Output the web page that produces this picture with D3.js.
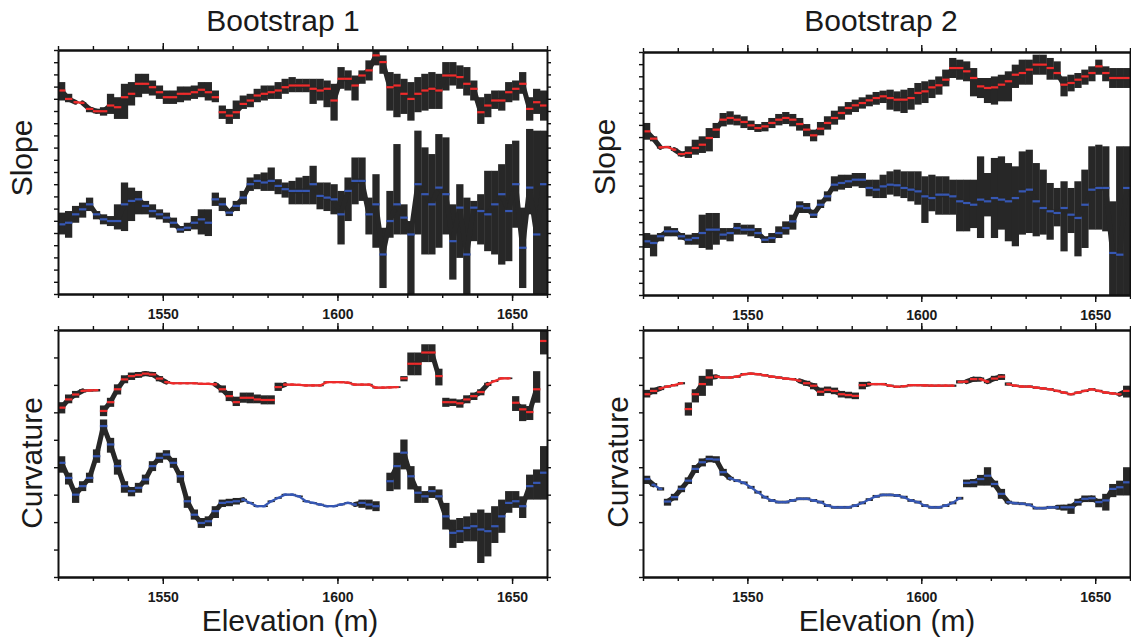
<!DOCTYPE html>
<html>
<head>
<meta charset="utf-8">
<script src="https://cdn.jsdelivr.net/npm/d3@7"></script>
<style>
  body { margin: 0; background: #fff; }
  svg { display: block; font-family: "Liberation Sans", Arial, sans-serif; }
</style>
</head>
<body>
<svg id="chart" width="1131" height="639"></svg>
<script>
// elevation of each bootstrap sample (m), 2 m bins
const elevation = [
  1521, 1523, 1525, 1527, 1529, 1531, 1533, 1535, 1537, 1539,
  1541, 1543, 1545, 1547, 1549, 1551, 1553, 1555, 1557, 1559,
  1561, 1563, 1565, 1567, 1569, 1571, 1573, 1575, 1577, 1579,
  1581, 1583, 1585, 1587, 1589, 1591, 1593, 1595, 1597, 1599,
  1601, 1603, 1605, 1607, 1609, 1611, 1613, 1615, 1617, 1619,
  1621, 1623, 1625, 1627, 1629, 1631, 1633, 1635, 1637, 1639,
  1641, 1643, 1645, 1647, 1649, 1651, 1653, 1655, 1657, 1659
];

// Bootstrap 1 - slope (red = upper series, blue = lower series)
const b1SlopeRed = [
  16.68, 15.99, 15.72, 15.66, 15.17, 14.98, 14.98, 15.45, 15.31, 16.13,
  16.41, 17.23, 17.23, 16.95, 16.54, 16.13, 16.13, 16.41, 16.41, 16.54,
  16.74, 16.54, 16.13, 14.90, 14.62, 14.90, 15.58, 15.86, 16.27, 16.41,
  16.54, 16.68, 16.95, 17.09, 17.09, 17.09, 16.82, 16.68, 16.82, 15.86,
  17.64, 17.64, 17.09, 17.91, 18.33, 19.56, 19.01, 16.95, 17.09, 16.41,
  15.99, 16.41, 16.68, 16.82, 16.68, 17.91, 17.91, 17.78, 17.23, 16.82,
  14.90, 15.45, 15.86, 15.86, 16.54, 16.82, 17.23, 15.17, 15.72, 15.45
];
const b1SlopeRedHi = [
  17.37, 16.41, 15.78, 15.72, 15.31, 15.17, 15.31, 16.41, 16.13, 17.23,
  17.37, 18.05, 18.05, 17.50, 17.09, 16.68, 16.68, 17.01, 17.01, 17.09,
  17.37, 17.37, 16.68, 15.45, 15.17, 15.86, 16.27, 16.41, 16.82, 17.09,
  17.09, 17.37, 17.64, 17.78, 17.64, 17.64, 17.64, 17.64, 17.50, 17.23,
  18.60, 18.33, 17.91, 18.33, 19.15, 20.11, 19.56, 18.19, 18.05, 17.64,
  17.37, 17.78, 18.05, 18.19, 18.05, 19.01, 19.01, 18.74, 18.60, 17.50,
  16.13, 16.41, 16.68, 16.68, 17.37, 17.50, 18.19, 16.13, 16.82, 16.68
];
const b1SlopeRedLo = [
  15.86, 15.72, 15.66, 15.60, 14.90, 14.81, 14.62, 14.76, 14.35, 14.35,
  15.45, 16.13, 16.41, 16.27, 15.99, 15.58, 15.58, 15.72, 15.86, 15.99,
  16.13, 15.86, 15.72, 14.35, 13.94, 14.35, 15.17, 15.31, 15.72, 15.86,
  15.99, 15.99, 16.41, 16.54, 16.54, 16.54, 15.58, 15.86, 15.31, 14.21,
  16.82, 16.68, 15.86, 17.23, 17.50, 18.74, 18.05, 15.03, 14.49, 14.76,
  14.21, 14.90, 15.03, 15.17, 15.17, 16.68, 17.09, 16.82, 16.27, 15.86,
  13.94, 14.49, 15.17, 15.03, 15.72, 15.86, 16.41, 14.21, 14.76, 14.21
];
const b1SlopeRedBreaks = [1566, 1570];
const b1SlopeBlue = [
  5.71, 5.84, 6.53, 6.94, 7.35, 6.53, 6.12, 5.98, 5.98, 7.35,
  7.63, 7.76, 7.22, 6.80, 6.53, 6.26, 5.84, 5.29, 5.43, 5.84,
  6.12, 5.84, 7.76, 7.35, 6.67, 7.22, 7.90, 9.00, 9.27, 9.14,
  9.27, 8.86, 8.59, 8.45, 8.45, 8.45, 9.00, 8.04, 7.90, 7.76,
  6.53, 8.45, 9.27, 9.27, 6.53, 7.35, 3.24, 5.98, 7.35, 6.26,
  4.88, 9.00, 8.18, 7.35, 8.72, 8.18, 4.33, 7.08, 3.24, 7.08,
  6.80, 6.53, 7.35, 8.18, 6.80, 9.00, 3.79, 8.72, 4.88, 9.00
];
const b1SlopeBlueHi = [
  6.67, 6.80, 7.22, 7.49, 7.90, 6.80, 6.53, 6.39, 7.35, 9.14,
  8.72, 8.45, 7.63, 7.35, 6.94, 6.67, 6.26, 5.57, 5.84, 6.39,
  6.94, 6.94, 8.31, 7.90, 6.94, 7.63, 8.45, 9.55, 9.82, 9.96,
  10.37, 9.41, 9.14, 9.27, 9.55, 9.68, 10.51, 9.14, 9.14, 9.00,
  8.45, 9.55, 11.19, 11.19, 7.90, 9.82, 5.43, 8.45, 12.29, 7.35,
  5.98, 13.39, 12.02, 11.47, 13.11, 12.84, 7.35, 9.00, 7.90, 7.63,
  8.18, 10.10, 10.10, 10.64, 12.29, 12.57, 7.08, 13.53, 13.39, 13.39
];
const b1SlopeBlueLo = [
  4.88, 4.61, 5.84, 6.26, 6.80, 6.12, 5.71, 5.57, 5.29, 5.16,
  5.98, 6.53, 6.53, 6.26, 6.12, 5.84, 5.43, 5.02, 5.16, 5.29,
  4.88, 4.75, 7.22, 6.80, 6.39, 6.80, 7.35, 8.45, 8.59, 8.45,
  8.45, 8.18, 7.90, 7.35, 7.35, 7.35, 7.35, 6.94, 6.80, 6.53,
  4.06, 5.98, 7.35, 7.63, 4.88, 3.79, 0.49, 4.61, 4.88, 4.88,
  0.00, 4.88, 3.24, 3.24, 3.79, 4.88, 1.18, 2.96, 0.00, 4.33,
  4.06, 3.51, 3.24, 2.41, 2.69, 5.43, 0.49, 6.53, 0.00, 0.00
];
const b1SlopeBlueBreaks = [1564];

// Bootstrap 2 - slope
const b2SlopeRed = [
  13.47, 12.87, 12.15, 12.18, 11.96, 11.60, 11.69, 12.10, 12.37, 12.92,
  13.61, 14.43, 14.57, 14.43, 14.24, 13.96, 13.74, 13.88, 14.16, 14.43,
  14.57, 14.43, 14.07, 13.61, 13.14, 13.69, 14.16, 14.57, 14.98, 15.39,
  15.61, 15.80, 16.02, 16.21, 16.35, 16.21, 16.08, 16.08, 16.21, 16.63,
  16.76, 17.09, 17.26, 17.72, 18.68, 18.68, 18.41, 17.86, 17.17, 17.04,
  17.09, 17.31, 17.59, 18.13, 18.27, 18.55, 18.96, 18.96, 18.68, 18.27,
  17.31, 17.45, 17.72, 17.99, 18.27, 18.82, 18.27, 17.86, 17.86, 17.86
];
const b2SlopeRedHi = [
  14.16, 13.06, 12.24, 12.27, 12.05, 11.77, 12.24, 12.78, 13.06, 13.74,
  14.16, 14.98, 15.12, 14.84, 14.71, 14.35, 14.07, 14.24, 14.57, 14.90,
  15.06, 14.90, 14.57, 14.07, 13.61, 14.24, 14.71, 15.17, 15.53, 15.88,
  16.08, 16.27, 16.49, 16.71, 16.82, 16.90, 16.76, 16.90, 17.04, 17.45,
  17.59, 17.72, 17.99, 18.55, 19.51, 19.37, 19.23, 18.68, 17.86, 17.86,
  17.99, 18.13, 18.41, 18.96, 19.37, 19.37, 19.78, 19.78, 19.51, 19.23,
  17.99, 18.13, 18.27, 18.55, 18.82, 19.37, 18.82, 18.68, 18.68, 18.68
];
const b2SlopeRedLo = [
  12.78, 12.65, 12.05, 12.08, 11.86, 11.41, 11.28, 11.55, 11.69, 11.82,
  12.92, 13.88, 14.02, 13.96, 13.74, 13.58, 13.42, 13.47, 13.74, 13.96,
  14.07, 13.88, 13.53, 13.06, 12.65, 13.14, 13.61, 14.02, 14.43, 14.84,
  15.06, 15.34, 15.53, 15.66, 15.80, 15.25, 15.12, 14.98, 15.25, 15.67,
  15.80, 16.21, 16.49, 17.17, 17.86, 17.72, 17.59, 16.35, 16.21, 15.80,
  15.67, 15.94, 15.94, 17.04, 17.31, 17.31, 18.13, 18.13, 17.72, 17.72,
  16.35, 16.76, 17.04, 17.31, 17.59, 18.13, 17.59, 17.04, 17.04, 17.04
];
const b2SlopeRedBreaks = [];
const b2SlopeBlue = [
  4.42, 4.28, 4.83, 5.24, 5.24, 4.83, 4.55, 4.69, 5.10, 5.38,
  5.38, 4.97, 5.10, 5.51, 5.38, 5.38, 5.10, 4.55, 4.69, 5.10,
  5.51, 6.06, 7.30, 7.16, 6.61, 7.43, 8.12, 9.08, 9.22, 9.36,
  9.49, 9.49, 8.81, 8.67, 8.94, 9.08, 9.03, 8.81, 8.67, 8.53,
  8.12, 7.98, 8.26, 8.26, 8.12, 7.71, 7.57, 7.43, 7.85, 7.71,
  7.98, 7.85, 7.71, 7.98, 8.53, 8.67, 7.71, 7.16, 6.89, 6.75,
  7.16, 6.61, 6.34, 7.43, 8.67, 8.81, 8.81, 3.46, 3.32, 8.81
];
const b2SlopeBlueHi = [
  5.10, 4.97, 5.10, 5.65, 5.51, 5.10, 4.97, 5.10, 6.61, 6.75,
  6.75, 5.51, 5.51, 5.93, 5.79, 5.79, 5.51, 4.83, 5.10, 5.65,
  6.06, 6.61, 7.71, 7.57, 7.02, 7.85, 8.53, 9.77, 9.90, 9.90,
  10.04, 10.04, 9.49, 9.49, 9.90, 10.18, 10.32, 10.18, 10.18, 10.18,
  9.77, 9.90, 9.77, 9.77, 9.49, 9.49, 9.49, 9.49, 11.41, 10.04,
  11.28, 11.41, 10.86, 10.59, 11.82, 11.96, 10.86, 10.32, 9.22, 8.81,
  9.36, 8.81, 9.36, 10.32, 12.24, 12.37, 12.24, 7.71, 12.24, 12.24
];
const b2SlopeBlueLo = [
  3.87, 3.18, 4.42, 4.83, 4.83, 4.55, 4.14, 4.14, 3.87, 3.73,
  4.14, 4.55, 4.42, 4.97, 4.97, 4.83, 4.69, 4.28, 4.28, 4.69,
  4.97, 5.38, 6.75, 6.75, 6.34, 7.16, 7.71, 8.53, 8.67, 8.81,
  8.94, 8.81, 8.12, 7.98, 7.98, 8.26, 8.12, 7.98, 7.71, 7.43,
  5.93, 6.89, 6.61, 6.61, 6.61, 5.24, 5.24, 5.51, 4.69, 6.47,
  4.69, 5.38, 4.42, 4.01, 4.97, 5.10, 4.83, 4.97, 4.55, 5.65,
  3.59, 5.10, 3.18, 3.87, 5.38, 5.38, 5.24, 0.00, 0.00, 0.00
];
const b2SlopeBlueBreaks = [];

// Bootstrap 1 - curvature
const b1CurvRed = [
  6.17, 6.47, 6.65, 6.78, 6.80, 6.81, 6.05, 6.37, 6.84, 7.20,
  7.32, 7.36, 7.41, 7.38, 7.23, 7.10, 7.06, 7.06, 7.06, 7.06,
  7.04, 7.04, 7.02, 6.84, 6.59, 6.37, 6.53, 6.53, 6.47, 6.45,
  6.45, 6.92, 7.01, 7.01, 7.00, 6.98, 6.98, 6.98, 7.10, 7.10,
  7.10, 7.08, 7.01, 7.01, 7.01, 6.90, 6.90, 6.91, 6.92, 7.24,
  7.77, 7.77, 8.18, 8.18, 7.32, 6.37, 6.37, 6.33, 6.47, 6.59,
  6.74, 7.02, 7.14, 7.24, 7.24, 6.35, 6.11, 6.01, 6.84, 8.60
];
const b1CurvRedHi = [
  6.37, 6.65, 6.78, 6.84, 6.84, 6.85, 6.25, 6.53, 7.02, 7.35,
  7.45, 7.47, 7.49, 7.47, 7.32, 7.14, 7.09, 7.09, 7.09, 7.09,
  7.07, 7.07, 7.05, 6.98, 6.78, 6.57, 6.72, 6.72, 6.65, 6.62,
  6.62, 7.08, 7.04, 7.04, 7.03, 7.01, 7.01, 7.01, 7.13, 7.13,
  7.13, 7.11, 7.04, 7.04, 7.04, 6.93, 6.93, 6.94, 6.95, 7.32,
  8.18, 8.18, 8.48, 8.48, 7.59, 6.53, 6.50, 6.47, 6.62, 6.72,
  6.84, 7.08, 7.17, 7.27, 7.27, 6.59, 6.29, 6.23, 7.50, 8.97
];
const b1CurvRedLo = [
  5.96, 6.33, 6.53, 6.72, 6.75, 6.76, 5.86, 6.20, 6.65, 7.06,
  7.18, 7.26, 7.32, 7.30, 7.13, 7.06, 7.03, 7.03, 7.03, 7.03,
  7.01, 7.01, 6.99, 6.72, 6.41, 6.23, 6.35, 6.33, 6.33, 6.29,
  6.29, 6.78, 6.98, 6.98, 6.97, 6.95, 6.95, 6.95, 7.07, 7.07,
  7.07, 7.05, 6.98, 6.98, 6.98, 6.87, 6.87, 6.88, 6.89, 7.13,
  7.35, 7.35, 7.83, 7.83, 6.98, 6.20, 6.23, 6.17, 6.33, 6.45,
  6.62, 6.96, 7.11, 7.21, 7.21, 6.05, 5.68, 5.72, 6.35, 8.11
];
const b1CurvRedBreaks = [1532, 1582, 1618, 1620, 1630, 1650, 1658];
const b1CurvBlue = [
  4.16, 3.61, 3.00, 3.31, 3.61, 4.40, 5.50, 4.83, 4.04, 3.31,
  3.13, 3.25, 3.55, 4.04, 4.34, 4.46, 4.16, 3.67, 2.76, 2.27,
  1.97, 2.03, 2.40, 2.70, 2.73, 2.76, 2.82, 2.70, 2.58, 2.58,
  2.76, 2.88, 3.00, 3.00, 2.94, 2.76, 2.70, 2.64, 2.58, 2.58,
  2.64, 2.70, 2.64, 2.70, 2.64, 2.58, null, 3.49, 4.04, 4.53,
  3.67, 3.07, 2.94, 3.13, 2.94, 2.21, 1.61, 1.67, 1.79, 1.85,
  1.73, 1.67, 1.85, 2.21, 2.70, 2.76, 2.58, 3.31, 3.43, 3.80
];
const b1CurvBlueHi = [
  4.40, 3.80, 3.25, 3.49, 3.80, 4.65, 5.74, 5.07, 4.28, 3.49,
  3.28, 3.43, 3.73, 4.22, 4.53, 4.62, 4.34, 3.86, 2.94, 2.46,
  2.15, 2.21, 2.58, 2.82, 2.85, 2.88, 2.85, 2.73, 2.61, 2.61,
  2.79, 2.91, 3.03, 3.03, 2.97, 2.79, 2.73, 2.67, 2.61, 2.61,
  2.67, 2.73, 2.67, 2.82, 2.82, 2.76, null, 3.80, 4.53, 5.01,
  4.04, 3.31, 3.13, 3.31, 3.19, 2.70, 2.09, 2.15, 2.21, 2.34,
  2.46, 2.34, 2.58, 2.82, 3.13, 3.13, 2.94, 3.73, 3.92, 4.77
];
const b1CurvBlueLo = [
  3.80, 3.37, 2.70, 3.13, 3.43, 4.16, 5.19, 4.53, 3.73, 3.07,
  2.94, 3.07, 3.37, 3.86, 4.16, 4.28, 3.98, 3.43, 2.52, 2.09,
  1.79, 1.85, 2.15, 2.55, 2.58, 2.64, 2.79, 2.67, 2.55, 2.55,
  2.73, 2.85, 2.97, 2.97, 2.91, 2.73, 2.67, 2.61, 2.55, 2.55,
  2.61, 2.67, 2.61, 2.52, 2.46, 2.40, null, 3.13, 3.19, 3.92,
  3.19, 2.70, 2.70, 2.88, 2.82, 1.73, 1.06, 1.24, 1.30, 1.30,
  0.51, 0.75, 1.24, 1.61, 2.34, 2.52, 2.15, 2.82, 2.82, 2.82
];
const b1CurvBlueBreaks = [];

// Bootstrap 2 - curvature
const b2CurvRed = [
  6.66, 6.78, 6.87, 6.94, 6.99, 7.06, 6.12, 6.66, 7.03, 7.27,
  7.30, 7.27, 7.27, 7.30, 7.39, 7.41, 7.39, 7.35, 7.30, 7.27,
  7.23, 7.21, 7.15, 7.06, 6.97, 6.75, 6.82, 6.78, 6.66, 6.63,
  6.60, 6.99, 7.03, 7.03, 7.03, 6.97, 6.93, 6.95, 6.99, 6.99,
  6.98, 6.97, 6.97, 6.97, 6.97, 7.11, 7.12, 7.21, 7.21, 7.12,
  7.23, 7.30, 7.03, 6.97, 6.94, 6.94, 6.90, 6.87, 6.84, 6.78,
  6.72, 6.66, 6.72, 6.78, 6.84, 6.78, 6.72, 6.69, 6.66, 6.78
];
const b2CurvRedHi = [
  6.82, 6.90, 6.93, 6.98, 7.03, 7.10, 6.36, 6.84, 7.33, 7.57,
  7.35, 7.31, 7.31, 7.34, 7.43, 7.45, 7.43, 7.39, 7.34, 7.31,
  7.27, 7.25, 7.19, 7.15, 7.06, 6.90, 6.94, 6.90, 6.78, 6.75,
  6.72, 7.11, 7.07, 7.07, 7.07, 7.01, 6.97, 6.99, 7.03, 7.03,
  7.02, 7.01, 7.01, 7.01, 7.01, 7.17, 7.17, 7.27, 7.27, 7.18,
  7.33, 7.39, 7.09, 7.01, 6.98, 6.98, 6.94, 6.91, 6.88, 6.82,
  6.76, 6.70, 6.76, 6.82, 6.88, 6.82, 6.76, 6.73, 6.70, 6.97
];
const b2CurvRedLo = [
  6.54, 6.66, 6.81, 6.90, 6.95, 7.02, 5.88, 6.36, 6.60, 6.97,
  7.25, 7.23, 7.23, 7.26, 7.35, 7.37, 7.35, 7.31, 7.26, 7.23,
  7.19, 7.17, 7.11, 6.97, 6.84, 6.60, 6.70, 6.66, 6.54, 6.51,
  6.48, 6.84, 6.99, 6.99, 6.99, 6.93, 6.89, 6.91, 6.95, 6.95,
  6.94, 6.93, 6.93, 6.93, 6.93, 7.05, 7.07, 7.12, 7.15, 7.06,
  7.15, 7.18, 6.97, 6.93, 6.90, 6.90, 6.86, 6.83, 6.80, 6.74,
  6.68, 6.62, 6.68, 6.74, 6.80, 6.74, 6.68, 6.65, 6.62, 6.54
];
const b2CurvRedBreaks = [1532, 1534, 1582, 1610, 1624];
const b2CurvBlue = [
  3.57, 3.36, 3.21, 2.75, 2.91, 3.21, 3.51, 3.94, 4.18, 4.30,
  4.28, 3.82, 3.60, 3.51, 3.43, 3.27, 3.09, 2.91, 2.79, 2.73,
  2.73, 2.79, 2.85, 2.85, 2.79, 2.73, 2.60, 2.54, 2.54, 2.54,
  2.60, 2.70, 2.82, 2.94, 2.99, 2.99, 2.97, 2.91, 2.79, 2.73,
  2.60, 2.54, 2.54, 2.60, 2.70, 2.87, 3.43, 3.45, 3.57, 3.69,
  3.39, 3.03, 2.73, 2.69, 2.67, 2.63, 2.51, 2.51, 2.54, 2.54,
  2.54, 2.54, 2.73, 2.85, 2.87, 2.73, 2.79, 3.21, 3.27, 3.45
];
const b2CurvBlueHi = [
  3.69, 3.42, 3.27, 2.85, 3.03, 3.33, 3.63, 4.08, 4.32, 4.42,
  4.40, 3.94, 3.65, 3.56, 3.48, 3.32, 3.14, 2.96, 2.84, 2.78,
  2.78, 2.84, 2.90, 2.90, 2.84, 2.78, 2.65, 2.59, 2.59, 2.59,
  2.65, 2.75, 2.87, 2.99, 3.04, 3.04, 3.02, 2.96, 2.84, 2.78,
  2.65, 2.59, 2.59, 2.65, 2.75, 2.92, 3.55, 3.57, 3.72, 4.00,
  3.51, 3.21, 2.78, 2.74, 2.72, 2.68, 2.56, 2.56, 2.59, 2.59,
  2.63, 2.67, 2.85, 2.97, 2.97, 2.85, 3.03, 3.39, 3.51, 4.00
];
const b2CurvBlueLo = [
  3.39, 3.30, 3.15, 2.60, 2.79, 3.09, 3.39, 3.79, 4.03, 4.18,
  4.16, 3.69, 3.55, 3.46, 3.38, 3.22, 3.04, 2.86, 2.74, 2.68,
  2.68, 2.74, 2.80, 2.80, 2.74, 2.68, 2.55, 2.49, 2.49, 2.49,
  2.55, 2.65, 2.77, 2.89, 2.94, 2.94, 2.92, 2.86, 2.74, 2.68,
  2.55, 2.49, 2.49, 2.55, 2.65, 2.82, 3.27, 3.27, 3.33, 3.33,
  3.27, 2.85, 2.68, 2.64, 2.62, 2.58, 2.46, 2.46, 2.49, 2.49,
  2.42, 2.30, 2.60, 2.73, 2.73, 2.54, 2.42, 2.91, 2.97, 2.97
];
const b2CurvBlueBreaks = [1526, 1612];

const redColor = "#ee2b2b";
const blueColor = "#3657b3";
const barColor = "#272727";

let panels = [
  { left: 58, right: 547, top: 50, bottom: 294, yMax: 20,
    series: [[b1SlopeRed, b1SlopeRedLo, b1SlopeRedHi, b1SlopeRedBreaks, redColor],
             [b1SlopeBlue, b1SlopeBlueLo, b1SlopeBlueHi, b1SlopeBlueBreaks, blueColor]] },
  { left: 643, right: 1130, top: 52, bottom: 295, yMax: 20,
    series: [[b2SlopeRed, b2SlopeRedLo, b2SlopeRedHi, b2SlopeRedBreaks, redColor],
             [b2SlopeBlue, b2SlopeBlueLo, b2SlopeBlueHi, b2SlopeBlueBreaks, blueColor]] },
  { left: 58, right: 547, top: 330, bottom: 577, yMax: 9,
    series: [[b1CurvRed, b1CurvRedLo, b1CurvRedHi, b1CurvRedBreaks, redColor],
             [b1CurvBlue, b1CurvBlueLo, b1CurvBlueHi, b1CurvBlueBreaks, blueColor]] },
  { left: 643, right: 1130, top: 330, bottom: 577, yMax: 9,
    series: [[b2CurvRed, b2CurvRedLo, b2CurvRedHi, b2CurvRedBreaks, redColor],
             [b2CurvBlue, b2CurvBlueLo, b2CurvBlueHi, b2CurvBlueBreaks, blueColor]] }
];

const svg = d3.select("#chart");
svg.append("rect").attr("width", 1131).attr("height", 639).attr("fill", "#fff");

let drawPanel = (p, i) => {
  let x = d3.scaleLinear().domain([1520, 1660]).range([p.left, p.right]);
  let y = d3.scaleLinear().domain([0, p.yMax]).range([p.bottom, p.top]);

  svg.append("clipPath").attr("id", "clip" + i)
    .append("rect")
    .attr("x", p.left).attr("y", p.top)
    .attr("width", p.right - p.left).attr("height", p.bottom - p.top);

  let plot = svg.append("g").attr("clip-path", "url(#clip" + i + ")");

  p.series.forEach(([mid, lo, hi, breaks, color]) => {
    let pts = elevation
      .map((e, k) => ({ e: e, v: mid[k], lo: lo[k], hi: hi[k] }))
      .filter((d) => d.v !== null);
    let barPx = (d) => y(d.lo) - y(d.hi);

    // neighbouring samples, joined unless the curve is broken between them
    let links = [];
    for (let k = 0; k < pts.length - 1; k++) {
      let a = pts[k], b = pts[k + 1];
      let broken = b.e - a.e !== 2 || breaks.some((br) => br > a.e && br < b.e);
      if (!broken) {
        links.push({ a: a, b: b, wide: Math.max(barPx(a), barPx(b)) > 4 });
      }
    }

    // error bars
    plot.append("g")
      .selectAll("rect")
      .data(pts)
      .enter()
      .append("rect")
      .attr("x", (d) => x(d.e - 1))
      .attr("width", (d) => x(d.e + 1) - x(d.e - 1) + 0.3)
      .attr("y", (d) => y(d.hi))
      .attr("height", (d) => Math.max(0.5, barPx(d)))
      .attr("fill", barColor);

    // dark joints between neighbours that carry error bars
    plot.append("g")
      .selectAll("line")
      .data(links.filter((l) => l.wide))
      .enter()
      .append("line")
      .attr("x1", (l) => x(l.a.e)).attr("y1", (l) => y(l.a.v))
      .attr("x2", (l) => x(l.b.e)).attr("y2", (l) => y(l.b.v))
      .attr("stroke", barColor)
      .attr("stroke-width", 5)
      .attr("stroke-linecap", "round");

    // thin coloured line where the spread is negligible
    plot.append("g")
      .selectAll("line")
      .data(links.filter((l) => !l.wide))
      .enter()
      .append("line")
      .attr("x1", (l) => x(l.a.e)).attr("y1", (l) => y(l.a.v))
      .attr("x2", (l) => x(l.b.e)).attr("y2", (l) => y(l.b.v))
      .attr("stroke", color)
      .attr("stroke-width", 2.2)
      .attr("stroke-linecap", "round");

    // bootstrap mean: short horizontal dash per bin
    plot.append("g")
      .selectAll("rect")
      .data(pts)
      .enter()
      .append("rect")
      .attr("x", (d) => x(d.e - 1) + (barPx(d) > 4 ? 0 : 1.5))
      .attr("width", (d) => x(d.e + 1) - x(d.e - 1) + (barPx(d) > 4 ? 0.4 : -3))
      .attr("y", (d) => y(d.v) - 1.1)
      .attr("height", 2.2)
      .attr("fill", color);
  });

  // axes: minor ticks every 10 m, longer ticks at labelled values
  let minorX = d3.range(1520, 1661, 10);
  let majorX = [1550, 1600, 1650];
  let yTicks = d3.range(0, p.yMax + 1);
  let axes = svg.append("g");

  axes.append("g").attr("transform", "translate(0," + p.bottom + ")")
    .call(d3.axisBottom(x).tickValues(minorX).tickSize(4).tickSizeOuter(0).tickFormat(""));
  axes.append("g").attr("class", "labels").attr("transform", "translate(0," + p.bottom + ")")
    .call(d3.axisBottom(x).tickValues(majorX).tickSize(7).tickPadding(8).tickSizeOuter(0).tickFormat(d3.format("d")));
  axes.append("g").attr("transform", "translate(0," + p.top + ")")
    .call(d3.axisTop(x).tickValues(minorX).tickSize(4).tickSizeOuter(0).tickFormat(""));
  axes.append("g").attr("transform", "translate(0," + p.top + ")")
    .call(d3.axisTop(x).tickValues(majorX).tickSize(7).tickSizeOuter(0).tickFormat(""));
  axes.append("g").attr("transform", "translate(" + p.left + ",0)")
    .call(d3.axisLeft(y).tickValues(yTicks).tickSize(4).tickSizeOuter(0).tickFormat(""));
  axes.append("g").attr("transform", "translate(" + p.right + ",0)")
    .call(d3.axisRight(y).tickValues(yTicks).tickSize(4).tickSizeOuter(0).tickFormat(""));

  axes.selectAll(".domain").attr("stroke", "#111").attr("stroke-width", 2);
  axes.selectAll(".tick line").attr("stroke", "#111").attr("stroke-width", 1.4);
  axes.selectAll(".labels text")
    .attr("font-family", "'Liberation Sans', Arial, sans-serif")
    .attr("font-size", 14)
    .attr("font-weight", "bold")
    .attr("fill", "#1a1a1a");
};

panels.forEach(drawPanel);

let bigText = (txt, xPos, yPos, rotate) => {
  svg.append("text")
    .attr("transform", "translate(" + xPos + "," + yPos + ")" + (rotate ? " rotate(-90)" : ""))
    .attr("text-anchor", "middle")
    .attr("font-size", 30)
    .attr("fill", "#1a1a1a")
    .text(txt);
};

bigText("Bootstrap 1", 283, 31, false);
bigText("Bootstrap 2", 881, 31, false);
bigText("Slope", 32, 158, true);
bigText("Slope", 615, 157, true);
bigText("Curvature", 42, 463, true);
bigText("Curvature", 628, 462, true);
bigText("Elevation (m)", 290, 631, false);
bigText("Elevation (m)", 887, 631, false);
</script>
</body>
</html>
